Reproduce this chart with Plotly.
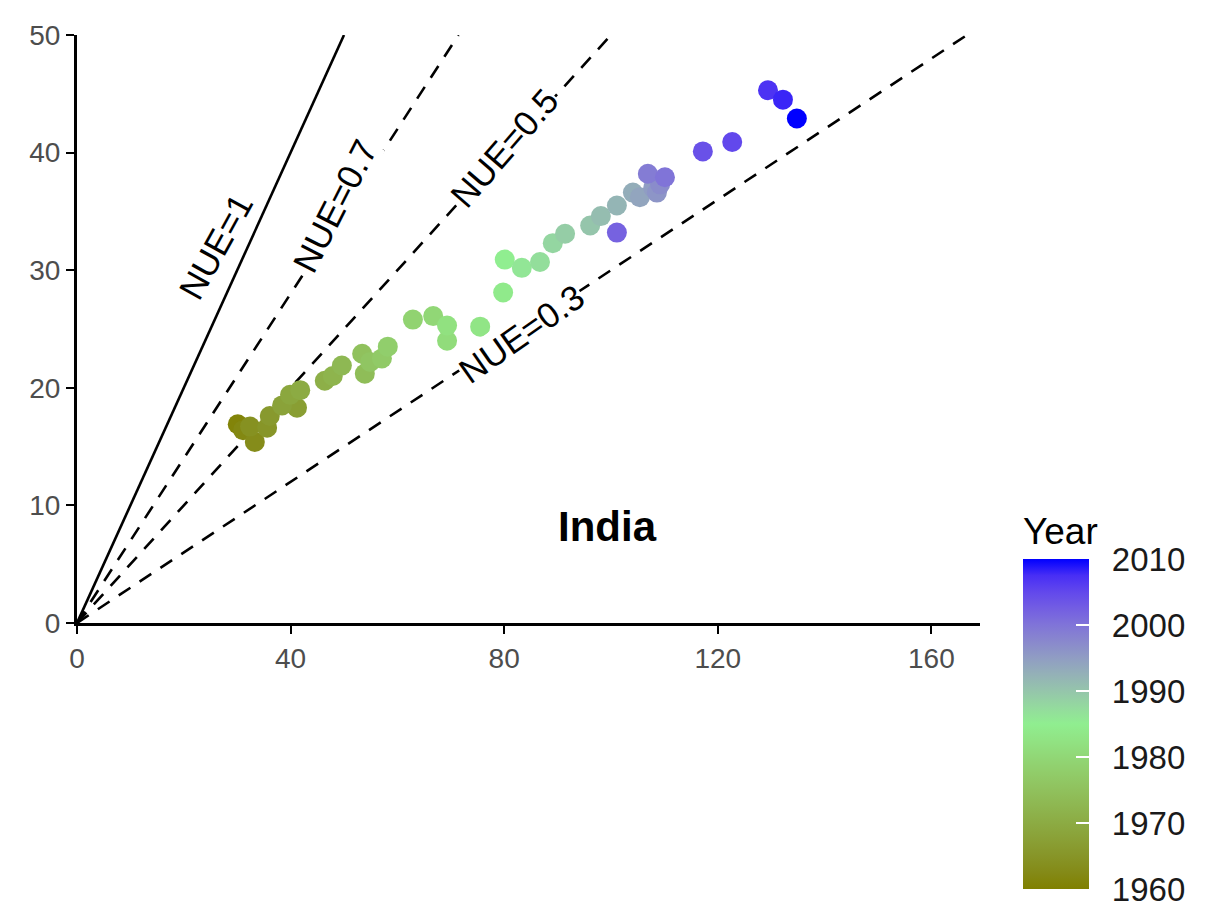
import numpy as np
import plotly.graph_objects as go

# ---- data ----
years = [1961, 1962, 1963, 1964, 1965, 1966, 1967, 1968, 1969, 1970,
         1971, 1972, 1973, 1974, 1975, 1976, 1977, 1978, 1979, 1980,
         1981, 1982, 1983, 1984, 1985, 1986, 1987, 1988, 1989, 1990,
         1991, 1992, 1993, 1994, 1995, 1996, 1997, 1999, 2000, 2002,
         2004, 2005, 2007, 2008, 2010]
n_input = [30.1, 31.1, 33.3, 32.4, 35.6, 36.1, 41.2, 38.4, 39.9, 41.8,
           46.4, 47.9, 49.6, 53.9, 53.4, 54.9, 57.1, 58.2, 62.9, 66.7,
           69.3, 69.3, 75.5, 79.8, 80.1, 83.3, 86.7, 89.1, 91.4, 96.1,
           98.1, 101.1, 104.1, 105.4, 107.9, 108.6, 109.2, 106.9, 110.1, 101.1,
           117.2, 122.7, 129.4, 132.2, 134.8]
n_output = [16.9, 16.4, 15.4, 16.7, 16.6, 17.6, 18.3, 18.5, 19.4, 19.8,
            20.6, 21.0, 21.9, 21.2, 22.9, 22.2, 22.5, 23.5, 25.8, 26.1,
            24.0, 25.3, 25.2, 28.1, 30.9, 30.2, 30.7, 32.3, 33.1, 33.8,
            34.6, 35.5, 36.6, 36.2, 37.0, 36.6, 37.3, 38.2, 37.9, 33.2,
            40.1, 40.9, 45.3, 44.5, 42.9]

nue_values = [1, 0.7, 0.5, 0.3]
nue_labels = ["NUE=1", "NUE=0.7", "NUE=0.5", "NUE=0.3"]
label_x = [26.0, 48.3, 80.1, 83.3]
label_y = [32.0, 35.5, 40.4, 24.6]
label_angle = [-61, -63, -49, -35]

year_ticks = [1960, 1970, 1980, 1990, 2000, 2010]
x_ticks = [0, 40, 80, 120, 160]
y_ticks = [0, 10, 20, 30, 40, 50]
XMAX, YMAX = 169.1, 50
YEAR_MIN, YEAR_MAX = 1960, 2010


# ---- colour scale: gradient2 olive -> lightgreen -> blue, interpolated in Lab ----
def _srgb_to_lab(h):
    h = h.lstrip("#")
    rgb = np.array([int(h[i:i + 2], 16) / 255 for i in (0, 2, 4)])
    lin = np.where(rgb <= 0.04045, rgb / 12.92, ((rgb + 0.055) / 1.055) ** 2.4)
    M = np.array([[0.4124, 0.3576, 0.1805], [0.2126, 0.7152, 0.0722], [0.0193, 0.1192, 0.9505]])
    xyz = M @ lin / np.array([0.95047, 1.0, 1.08883])
    f = np.where(xyz > 0.008856, np.cbrt(xyz), 7.787 * xyz + 16 / 116)
    return np.array([116 * f[1] - 16, 500 * (f[0] - f[1]), 200 * (f[1] - f[2])])


def _lab_to_hex(lab):
    L, a, b = lab
    fy = (L + 16) / 116
    fx = fy + a / 500
    fz = fy - b / 200
    f = np.array([fx, fy, fz])
    xyz = np.where(f ** 3 > 0.008856, f ** 3, (f - 16 / 116) / 7.787) * np.array([0.95047, 1.0, 1.08883])
    Minv = np.array([[3.2406, -1.5372, -0.4986], [-0.9689, 1.8758, 0.0415], [0.0557, -0.2040, 1.0570]])
    lin = Minv @ xyz
    rgb = np.where(lin <= 0.0031308, 12.92 * lin, 1.055 * np.clip(lin, 0, None) ** (1 / 2.4) - 0.055)
    rgb = np.clip(rgb, 0, 1)
    return "#%02x%02x%02x" % tuple(int(round(c * 255)) for c in rgb)


low, mid, high = "#808000", "#90ee90", "#0000ff"
lab_low, lab_mid, lab_high = _srgb_to_lab(low), _srgb_to_lab(mid), _srgb_to_lab(high)
colorscale = []
for t in np.linspace(0, 1, 21):
    if t <= 0.5:
        lab = lab_low + (lab_mid - lab_low) * (t / 0.5)
    else:
        lab = lab_mid + (lab_high - lab_mid) * ((t - 0.5) / 0.5)
    colorscale.append([float(t), _lab_to_hex(lab)])

FONT = "Liberation Sans, Arial, sans-serif"

fig = go.Figure()

# reference NUE lines
for v in nue_values:
    xend = min(YMAX / v, XMAX)
    fig.add_trace(go.Scatter(
        x=[0, xend], y=[0, v * xend], mode="lines",
        line=dict(color="black", width=2.6, dash="solid" if v == 1 else "14px,11px"),
        hoverinfo="skip", showlegend=False))

# colour bar geometry (paper coords)
CB_X0 = 1.0476
CB_Y0 = -0.4446

# points
fig.add_trace(go.Scatter(
    x=n_input, y=n_output, mode="markers",
    marker=dict(
        size=20, color=years, colorscale=colorscale, cmin=YEAR_MIN, cmax=YEAR_MAX,
        line=dict(width=0),
        colorbar=dict(
            title=dict(text="Year", side="top", font=dict(size=37, color="black", family=FONT)),
            tickvals=year_ticks,
            ticktext=["\u00a0\u2009" + str(t) for t in year_ticks],
            tickfont=dict(size=33, color="#1a1a1a", family=FONT),
            ticks="inside", ticklen=13, tickcolor="white", tickwidth=1.5,
            thickness=66, thicknessmode="pixels",
            len=376, lenmode="pixels",
            x=CB_X0, xanchor="left", xpad=0,
            y=CB_Y0 - 5 / 596, yanchor="bottom", ypad=0,
            outlinewidth=0,
        ),
    ),
    showlegend=False))

annotations = []
for txt, lx, ly, ang in zip(nue_labels, label_x, label_y, label_angle):
    annotations.append(dict(
        x=lx, y=ly, xref="x", yref="y", text=txt, showarrow=False,
        textangle=ang, bgcolor="white", borderpad=0,
        font=dict(size=35, color="black", family=FONT)))
annotations.append(dict(
    x=99.4, y=8.2, xref="x", yref="y", text="<b>India</b>", showarrow=False,
    font=dict(size=42, color="black", family=FONT)))

fig.update_layout(
    width=1210, height=911,
    margin=dict(l=69, r=238, t=19, b=296),
    paper_bgcolor="white", plot_bgcolor="white",
    annotations=annotations,
    font=dict(family=FONT),
)
fig.update_xaxes(
    range=[0, XMAX], tickvals=x_ticks, showgrid=False, zeroline=False,
    showline=True, linecolor="black", linewidth=3,
    ticks="outside", ticklen=8, tickwidth=2, tickcolor="black",
    tickfont=dict(size=28, color="#4d4d4d", family=FONT))
fig.update_yaxes(
    range=[0, YMAX], tickvals=y_ticks, showgrid=False, zeroline=False,
    showline=True, linecolor="black", linewidth=3,
    ticks="outside", ticklen=8, tickwidth=2, tickcolor="black",
    tickfont=dict(size=28, color="#4d4d4d", family=FONT))

fig.write_html("out.html")
